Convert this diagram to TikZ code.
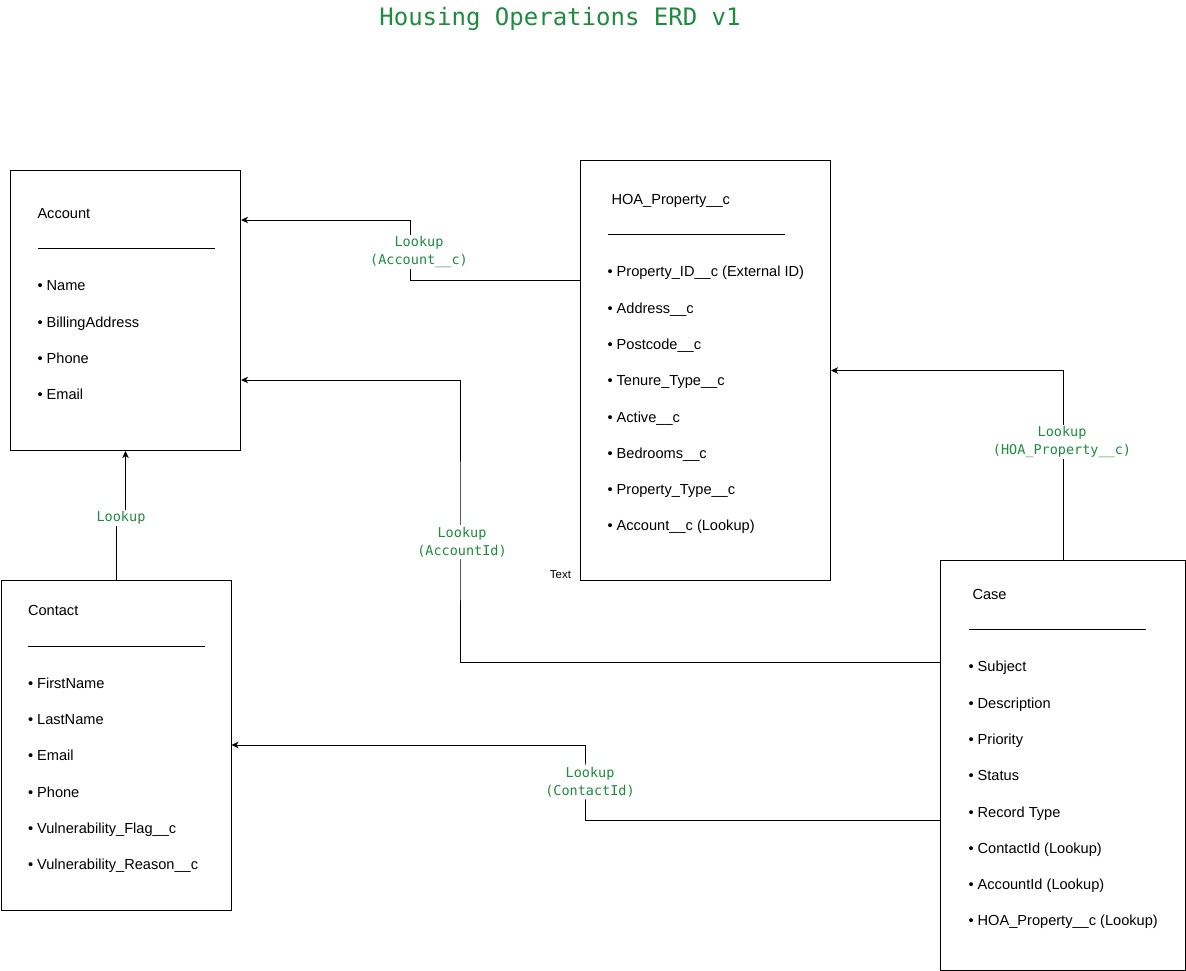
\documentclass[tikz,border=0pt]{standalone}
\usepackage{fontspec}
\setmainfont{Liberation Sans}
\newfontfamily\lookupfont{DejaVu Sans Mono}
\usepackage{tikz}
\usetikzlibrary{arrows.meta, calc}
\definecolor{lookupgreen}{HTML}{1F8B3F}
\newcommand{\fieldrule}{\rule[5.5pt]{177pt}{0.8pt}}

\begin{document}
\begin{tikzpicture}[
            x = 1pt, y = -1pt, % pixel grid, y runs down
            > = {Stealth[length=7pt, width=6.5pt, inset=2pt]}, % arrow head style
            line width = 1pt % line style
        ]
        \tikzstyle{entity}=[
            draw = black,
            fill = white,
            anchor = north west,
            inner sep = 0pt
        ]
        \tikzstyle{fields}=[
            anchor = west,
            align = left,
            inner sep = 0pt,
            font = \fontsize{14.6}{36.3}\selectfont
        ]
        \tikzstyle{lookup}=[
            fill = white,
            align = center,
            inner sep = 1.5pt,
            text = lookupgreen,
            font = \lookupfont\fontsize{13.5}{18}\selectfont
        ]
        \tikzstyle{relation}=[->, black]

        \useasboundingbox (0,0) rectangle (1186,971);

        \node[text = lookupgreen, anchor = base, font = \lookupfont\fontsize{24}{28}\selectfont] (title) at (560,26) {Housing Operations ERD v1};

        % entities
        \node[entity, minimum width = 230pt, minimum height = 280pt] (acct) at (10,170) {};
        \node[entity, minimum width = 250pt, minimum height = 420pt] (hoa) at (580,160) {};
        \node[entity, minimum width = 230pt, minimum height = 330pt] (ctc) at (0.5,580) {};
        \node[entity, minimum width = 245pt, minimum height = 410pt] (case) at (940,560) {};

        \node[fields] (acct-f) at ([xshift=27pt, yshift=6.5pt]acct.west) {Account\\ \fieldrule\\ • Name\\ • BillingAddress\\ • Phone\\ • Email};
        \node[fields] (hoa-f) at ([xshift=27pt, yshift=6.5pt]hoa.west) {\hspace{4pt}HOA\_Property\_\_c\\ \fieldrule\\ • Property\_ID\_\_c (External ID)\\ • Address\_\_c\\ • Postcode\_\_c\\ • Tenure\_Type\_\_c\\ • Active\_\_c\\ • Bedrooms\_\_c\\ • Property\_Type\_\_c\\ • Account\_\_c (Lookup)};
        \node[fields] (ctc-f) at ([xshift=27pt, yshift=6.5pt]ctc.west) {Contact\\ \fieldrule\\ • FirstName\\ • LastName\\ • Email\\ • Phone\\ • Vulnerability\_Flag\_\_c\\ • Vulnerability\_Reason\_\_c};
        \node[fields] (case-f) at ([xshift=28pt, yshift=6.5pt]case.west) {\hspace{4pt}Case\\ \fieldrule\\ • Subject\\ • Description\\ • Priority\\ • Status\\ • Record Type\\ • ContactId (Lookup)\\ • AccountId (Lookup)\\ • HOA\_Property\_\_c (Lookup)};

        \node[font = \fontsize{11.5}{14}\selectfont] (stray) at (560.5,575) {Text};

        % bends of the lookups
        \coordinate (j1) at (410,250);
        \coordinate (j2) at (460,540);
        \coordinate (j4) at (585,780);
        \coordinate (j5) at (120,518);

        \draw[relation] ($(hoa.north west)+(0,120)$) -| (j1) |- ($(acct.north east)+(0,50)$);
        \draw[relation] ($(case.north west)+(0,102)$) -| (j2) |- ($(acct.north east)+(0,210)$);
        \draw[relation] (case.north) |- (hoa.east);
        \draw[relation] ($(case.north west)+(0,260)$) -| (j4) |- ($(ctc.north east)+(0,165)$);
        \draw[relation] (ctc.north) |- (j5) -| (acct.south);

        \node[lookup] (l-acct) at (419,252) {Lookup\\(Account\_\_c)};
        \node[lookup] (l-acctid) at (462,542) {Lookup\\(AccountId)};
        \node[lookup] (l-hoa) at (1062,442) {Lookup\\(HOA\_Property\_\_c)};
        \node[lookup] (l-ctcid) at (590,782) {Lookup\\(ContactId)};
        \node[lookup] (l-ctc) at (121,518) {Lookup};
    \end{tikzpicture}
\end{document}
